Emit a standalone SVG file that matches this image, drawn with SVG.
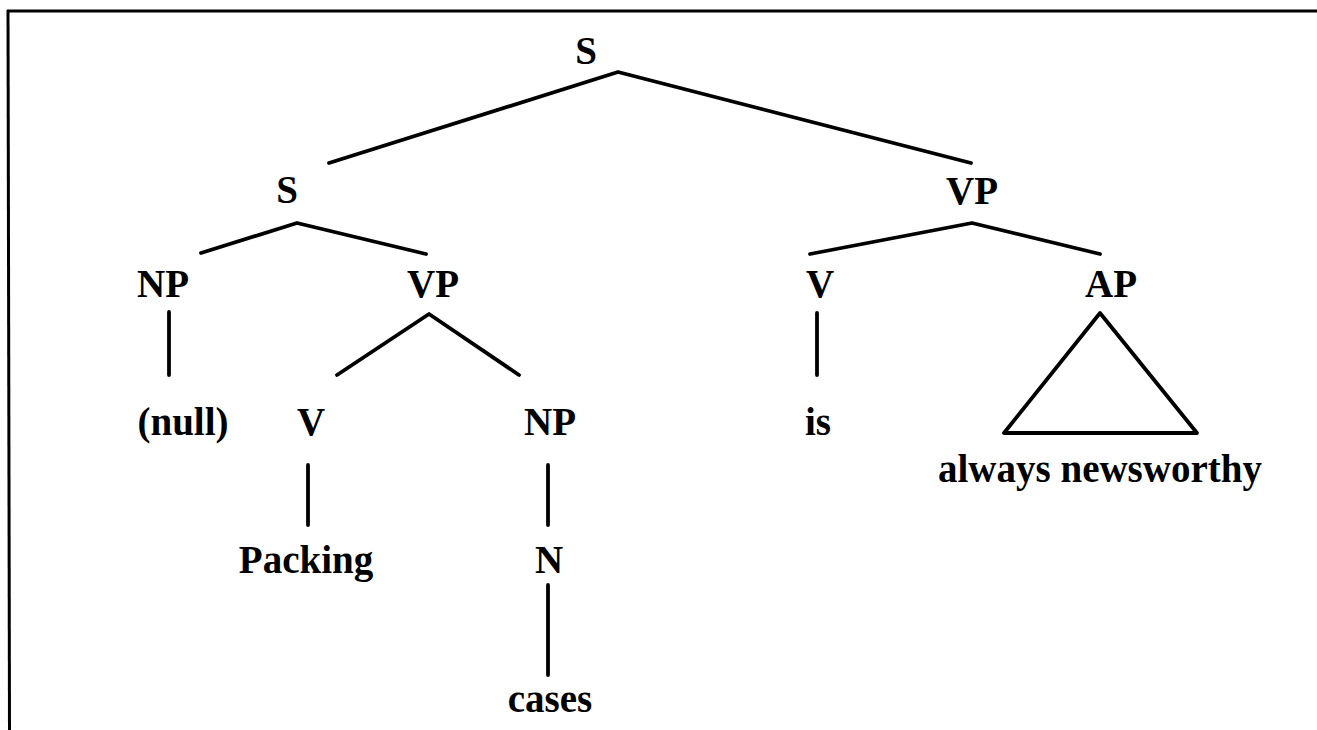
<svg xmlns="http://www.w3.org/2000/svg" width="1317" height="730" viewBox="0 0 1317 730">
  <style>
    .lbl { font-family: "Liberation Serif", "Times New Roman", serif; font-weight: bold; font-size: 39px; fill: #000; text-anchor: middle; }
    .edge { stroke: #000; stroke-width: 3.8; fill: none; stroke-linecap: round; stroke-linejoin: round; }
    .frame { stroke: #000; stroke-width: 3; fill: none; }
  </style>
  <rect width="1317" height="730" fill="#fff"/>

  <!-- frame (top and left edges) -->
  <g id="frame">
    <line class="frame" x1="7" y1="11" x2="1317" y2="11"/>
    <line class="frame" x1="8" y1="10" x2="9.5" y2="730"/>
  </g>

  <!-- branches -->
  <g id="connectors">
    <polyline class="edge" points="329,163 618,72 971,163"/>
    <polyline class="edge" points="201,253 297,223 426,254"/>
    <polyline class="edge" points="810,254 972,223 1100,254"/>
    <line class="edge" x1="169" y1="312" x2="169" y2="375"/>
    <polyline class="edge" points="337,375 429,314 519,375"/>
    <line class="edge" x1="817" y1="313" x2="817" y2="375"/>
    <polygon class="edge" points="1100,313 1004,433 1197,433"/>
    <line class="edge" x1="308" y1="465" x2="308" y2="525"/>
    <line class="edge" x1="548" y1="465" x2="548" y2="525"/>
    <line class="edge" x1="548" y1="585" x2="548" y2="675"/>
  </g>

  <g id="n-s-root"><text class="lbl" x="586" y="64">S</text></g>
  <g id="n-s"><text class="lbl" x="287" y="203">S</text></g>
  <g id="n-vp-main"><text class="lbl" x="972" y="204">VP</text></g>
  <g id="n-np-subj"><text class="lbl" x="163" y="297">NP</text></g>
  <g id="n-vp"><text class="lbl" x="433" y="297">VP</text></g>
  <g id="n-v-main"><text class="lbl" x="820" y="297">V</text></g>
  <g id="n-ap"><text class="lbl" x="1111" y="297">AP</text></g>
  <g id="n-null"><text class="lbl" x="183" y="435">(null)</text></g>
  <g id="n-v"><text class="lbl" x="311" y="435">V</text></g>
  <g id="n-np-obj"><text class="lbl" x="550" y="435">NP</text></g>
  <g id="n-is"><text class="lbl" x="818" y="435">is</text></g>
  <g id="n-always"><text class="lbl" x="1100" y="482">always newsworthy</text></g>
  <g id="n-packing"><text class="lbl" x="306" y="573">Packing</text></g>
  <g id="n-n"><text class="lbl" x="549" y="573">N</text></g>
  <g id="n-cases"><text class="lbl" x="550" y="712">cases</text></g>
</svg>
